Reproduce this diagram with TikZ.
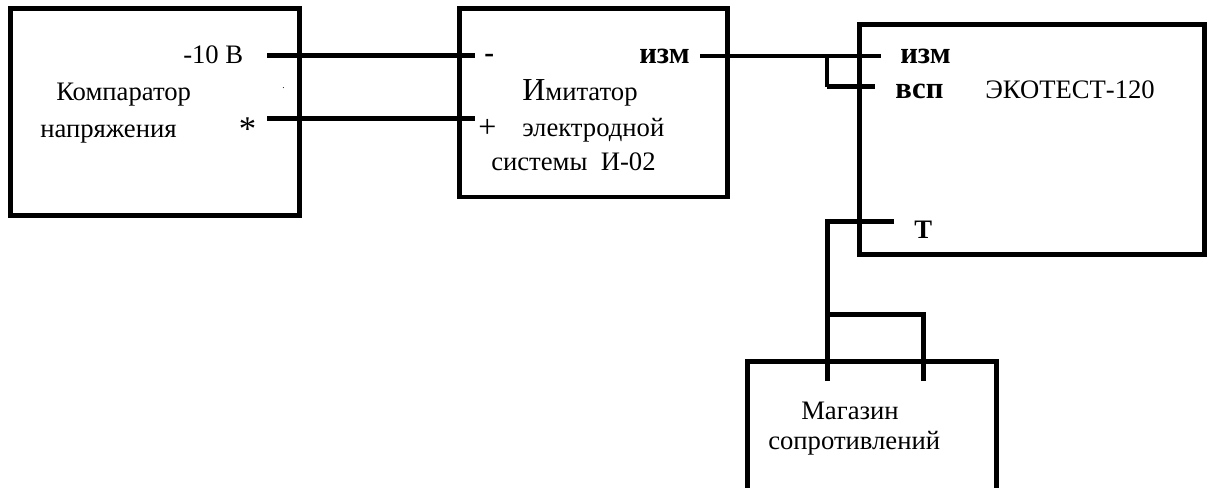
\documentclass[tikz,border=0pt]{standalone}
\usepackage{fontspec}
\setmainfont{Liberation Serif}
\tikzset{
  x=0.75pt,y=-0.75pt,
  box/.style={draw=black,line width=3.75pt,fill=none,inner sep=0pt,anchor=north west},
  wire/.style={draw=black,line width=3.75pt},
  thinwire/.style={draw=black,line width=3pt},
  lab/.style={anchor=base west,inner sep=0pt,font=\fontsize{20}{24}\selectfont},
  blab/.style={lab,font=\fontsize{23}{26}\selectfont\bfseries}
}
\begin{document}
\begin{tikzpicture}
\useasboundingbox (0,0) rectangle (1208,488);
\clip (0,0) rectangle (1208,488);
% boxes
\node[box,minimum width=216.5pt,minimum height=155.25pt] (comp) at (8,6) {};
\node[box,line width=3.2pt,minimum width=201pt,minimum height=141.5pt] (imit) at (457.4,6.4) {};
\node[box,minimum width=258.5pt,minimum height=172.5pt] (eko) at (857,22) {};
\node[box,minimum width=187pt,minimum height=110pt] (mag) at (745,359) {};
% wire ends
\coordinate (a1) at (267,56); \coordinate (a2) at (475,56);
\coordinate (b1) at (267,119); \coordinate (b2) at (475,119);
\coordinate (c1) at (700,56); \coordinate (c2) at (881,56);
\coordinate (d0) at (827,56); \coordinate (d1) at (827,87); \coordinate (d2) at (875,87);
\coordinate (t1) at (894,222); \coordinate (t2) at (827,222); \coordinate (t3) at (827,381);
\coordinate (r0) at (827,315); \coordinate (r1) at (923,315); \coordinate (r2) at (923,381);
% wires
\draw[wire] (a1) -- (a2);
\draw[wire] (b1) -- (b2);
\draw[thinwire] (c1) -- (c2);
\draw[thinwire,line join=miter] (d0) -- (d1);
\draw[wire] (d1) -- (d2);
\draw[wire,line join=miter] (t1) -- (t2) -- (t3);
\draw[wire,line join=miter] (r0) -- (r1) -- (r2);
% labels
\node[lab] (l1) at (183,64) {-10 В};
\node[lab] (l2) at (282,89) {\fontsize{7}{8}\selectfont .};
\node[lab] (l3) at (56,101) {Компаратор};
\node[lab] (l4) at (40,138) {напряжения};
\node[lab,font=\fontsize{26}{26}\selectfont] (l5) at (238.5,141) {*};
\node[lab,font=\fontsize{22}{22}\selectfont\bfseries] (l6) at (484,63) {-};
\node[lab,font=\fontsize{24}{24}\selectfont] (l7) at (478,138) {+};
\node[blab] (l8) at (639,64) {изм};
\node[lab] (l9) at (522,101) {{\fontsize{24}{24}\selectfont И}митатор};
\node[lab] (l10) at (522,137) {электродной};
\node[lab] (l11) at (491,171) {системы\ \ И-02};
\node[blab] (l12) at (900,64) {изм};
\node[blab] (l13) at (895,99) {всп};
\node[lab] (l14) at (985,99) {ЭКОТЕСТ-120};
\node[blab,font=\fontsize{20}{24}\selectfont\bfseries] (l15) at (914,239) {Т};
\node[lab] (l16) at (801,420) {Магазин};
\node[lab] (l17) at (768,450) {сопротивлений};
\end{tikzpicture}
\end{document}
